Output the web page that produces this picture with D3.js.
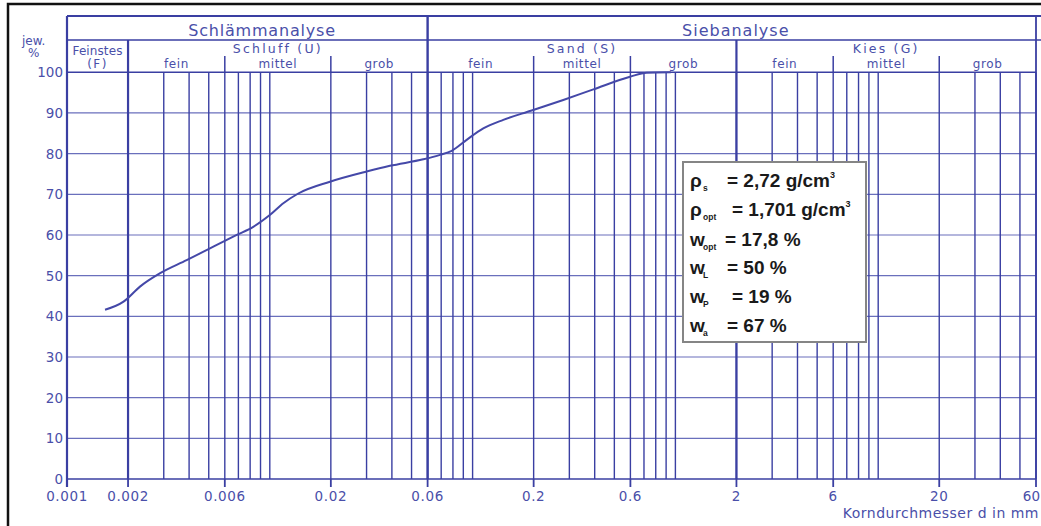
<!DOCTYPE html>
<html>
<head>
<meta charset="utf-8">
<script src="https://cdn.jsdelivr.net/npm/d3@7"></script>
<style>
  html, body { margin: 0; padding: 0; background: #fff; }
  svg { display: block; }
</style>
</head>
<body>
<svg id="chart" width="1041" height="526"></svg>
<script>
// ---- data ----
const grainSize = [0.00154, 0.0019, 0.00229, 0.00288, 0.00389, 0.00507, 0.00687, 0.00829, 0.0100, 0.01166, 0.01382,
  0.0198, 0.0300, 0.0391, 0.0571, 0.0691, 0.0789, 0.0935, 0.1129, 0.1417, 0.1956, 0.280, 0.394, 0.597, 0.722, 0.95];
const passing = [41.6, 43.6, 47.3, 50.6, 53.8, 56.7, 60.0, 62.0, 64.9, 67.8, 70.2,
  73.1, 75.6, 77.0, 78.6, 79.7, 80.7, 83.4, 86.2, 88.3, 90.6, 93.2, 95.8, 98.9, 99.9, 100];
const xTickValues = [0.001, 0.002, 0.006, 0.02, 0.06, 0.2, 0.6, 2, 6, 20, 60];
const xTickLabels = ["0.001", "0.002", "0.006", "0.02", "0.06", "0.2", "0.6", "2", "6", "20", "60"];
const yTicks = [0, 10, 20, 30, 40, 50, 60, 70, 80, 90, 100];
const subBounds = [0.006, 0.02, 0.2, 0.6, 6, 20];     // fein|mittel|grob separators
const groups = [
  { name: "Schluff (U)", from: 0.006, to: 0.02 },
  { name: "Sand (S)", from: 0.2, to: 0.6 },
  { name: "Kies (G)", from: 6, to: 20 }
];
const fractions = [
  { name: "fein", from: 0.002, to: 0.006 }, { name: "mittel", from: 0.006, to: 0.02 }, { name: "grob", from: 0.02, to: 0.06 },
  { name: "fein", from: 0.06, to: 0.2 }, { name: "mittel", from: 0.2, to: 0.6 }, { name: "grob", from: 0.6, to: 2 },
  { name: "fein", from: 2, to: 6 }, { name: "mittel", from: 6, to: 20 }, { name: "grob", from: 20, to: 60 }
];
const infoSymbols = ["ρ", "ρ", "w", "w", "w", "w"];
const infoSubs = ["s", "opt", "opt", "L", "P", "a"];
const infoValues = ["= 2,72 g/cm", "= 1,701 g/cm", "= 17,8 %", "= 50 %", "= 19 %", "= 67 %"];
const infoSup = ["3", "3", "", "", "", ""];

// ---- layout ----
const svg = d3.select("#chart");
const x = d3.scaleLog().domain([0.001, 60]).range([67, 1036]);
const y = d3.scaleLinear().domain([0, 100]).range([479, 72.3]);
const headTop = 16, headMid = 40, headBot = y(100);
const lineCol = "#3a3fa2", hCol = "#6a6fbc", textCol = "#4a4fa9", font = "DejaVu Sans, sans-serif";

// outer black frame
svg.append("rect").attr("x", 8).attr("y", 4).attr("width", 1060).attr("height", 560)
  .attr("fill", "#fff").attr("stroke", "#111").attr("stroke-width", 2.5);

// horizontal grid
svg.append("g").selectAll("line").data(yTicks).join("line")
  .attr("x1", x(0.001)).attr("x2", x(60))
  .attr("y1", d => y(d)).attr("y2", d => y(d))
  .attr("stroke", d => d === 0 || d === 100 ? lineCol : hCol)
  .attr("stroke-width", d => d === 0 || d === 100 ? 1.6 : 1.2);

// vertical grid (1..9 per decade)
const gridVals = x.ticks().filter(d => d >= 0.002 - 1e-9);
svg.append("g").selectAll("line").data(gridVals).join("line")
  .attr("x1", d => x(d)).attr("x2", d => x(d))
  .attr("y1", headBot).attr("y2", y(0))
  .attr("stroke", lineCol).attr("stroke-width", 1.4);

// heavy boundaries
svg.append("line").attr("x1", x(0.001)).attr("x2", x(0.001)).attr("y1", headTop).attr("y2", y(0) + 8)
  .attr("stroke", lineCol).attr("stroke-width", 2.2);
svg.append("line").attr("x1", x(0.06)).attr("x2", x(0.06)).attr("y1", headTop).attr("y2", y(0))
  .attr("stroke", lineCol).attr("stroke-width", 2.4);
[0.002, 2].forEach(v => svg.append("line").attr("x1", x(v)).attr("x2", x(v)).attr("y1", headMid).attr("y2", y(0))
  .attr("stroke", lineCol).attr("stroke-width", 2.2));
svg.append("line").attr("x1", x(60)).attr("x2", x(60)).attr("y1", headTop).attr("y2", y(0))
  .attr("stroke", lineCol).attr("stroke-width", 1.8);

// header horizontals
[headTop, headMid].forEach(yy => svg.append("line").attr("x1", x(0.001)).attr("x2", 1041)
  .attr("y1", yy).attr("y2", yy).attr("stroke", lineCol).attr("stroke-width", yy === headTop ? 2.2 : 1.6));

// sub separators in header
svg.append("g").selectAll("line").data(subBounds).join("line")
  .attr("x1", d => x(d)).attr("x2", d => x(d)).attr("y1", 56).attr("y2", headBot)
  .attr("stroke", lineCol).attr("stroke-width", 1.5);

// header texts
const txt = (t, xx, yy, size, ls) => svg.append("text").attr("x", xx).attr("y", yy)
  .attr("text-anchor", "middle").attr("font-family", font).attr("font-size", size)
  .attr("letter-spacing", ls).attr("fill", textCol).text(t);
txt("Schlämmanalyse", 262, 36, 16, 0.8);
txt("Siebanalyse", (x(0.06) + x(60)) / 2 + 4, 36, 16, 1.0);
const midPx = (a, b) => (x(a) + x(b)) / 2;
txt("Feinstes", midPx(0.001, 0.002), 55, 12, 0.1);
txt("(F)", midPx(0.001, 0.002), 68, 12, 1.5);
groups.forEach(g => txt(g.name, midPx(g.from, g.to), 53, 12.5, 2.2));
fractions.forEach(f => txt(f.name, midPx(f.from, f.to), 68, 12, 0.6));

// axis ticks below
svg.append("g").selectAll("line").data(xTickValues).join("line")
  .attr("x1", d => x(d)).attr("x2", d => x(d)).attr("y1", y(0)).attr("y2", y(0) + 8)
  .attr("stroke", lineCol).attr("stroke-width", 1.8);
const lastIdx = xTickValues.length - 1;
svg.append("g").selectAll("text").data(xTickValues).join("text")
  .attr("x", (d, i) => i === lastIdx ? 1040 : x(d)).attr("y", 501)
  .attr("text-anchor", (d, i) => i === lastIdx ? "end" : "middle")
  .attr("font-family", font).attr("font-size", 13.5).attr("letter-spacing", (d, i) => i === lastIdx ? 0 : 0.6)
  .attr("fill", textCol)
  .text((d, i) => xTickLabels[i]);

// y labels
svg.append("g").selectAll("text").data(yTicks).join("text")
  .attr("x", 63).attr("y", d => y(d)).attr("dy", "0.36em").attr("text-anchor", "end")
  .attr("font-family", font).attr("font-size", 13.5).attr("fill", textCol).text(d => d);
svg.append("text").attr("x", 22).attr("y", 45).attr("font-family", font).attr("font-size", 12)
  .attr("fill", textCol).text("jew.");
svg.append("text").attr("x", 28).attr("y", 57).attr("font-family", font).attr("font-size", 12)
  .attr("fill", textCol).text("%");
svg.append("text").attr("x", 1039).attr("y", 518).attr("text-anchor", "end").attr("font-family", font)
  .attr("font-size", 14).attr("letter-spacing", 0.5).attr("fill", textCol).text("Korndurchmesser d in mm");

// curve
const line = d3.line().x(d => x(d[0])).y(d => y(d[1])).curve(d3.curveMonotoneX);
svg.append("path").datum(grainSize.map((g, i) => [g, passing[i]]))
  .attr("d", line).attr("fill", "none").attr("stroke", "#4448a8").attr("stroke-width", 2);

// info box
svg.append("rect").attr("x", 683).attr("y", 162).attr("width", 183).attr("height", 180)
  .attr("fill", "#fff").attr("stroke", "#858585").attr("stroke-width", 2);
const eqX = [727, 732, 725, 727, 732, 727];
const baseY = [187, 216, 246, 274, 303, 332];
infoSymbols.forEach((s, i) => {
  const g = svg.append("g").attr("font-family", "Liberation Sans, Arial, sans-serif")
    .attr("font-weight", "bold").attr("fill", "#1a1a1a");
  g.append("text").attr("x", 690).attr("y", baseY[i]).attr("font-size", 19).text(s);
  g.append("text").attr("x", 703).attr("y", baseY[i] + 4).attr("font-size", 8.5).text(infoSubs[i]);
  const t = g.append("text").attr("x", eqX[i]).attr("y", baseY[i]).attr("font-size", 19).text(infoValues[i]);
  if (infoSup[i]) t.append("tspan").attr("font-size", 9).attr("dy", -9).text(infoSup[i]);
});
</script>
</body>
</html>
